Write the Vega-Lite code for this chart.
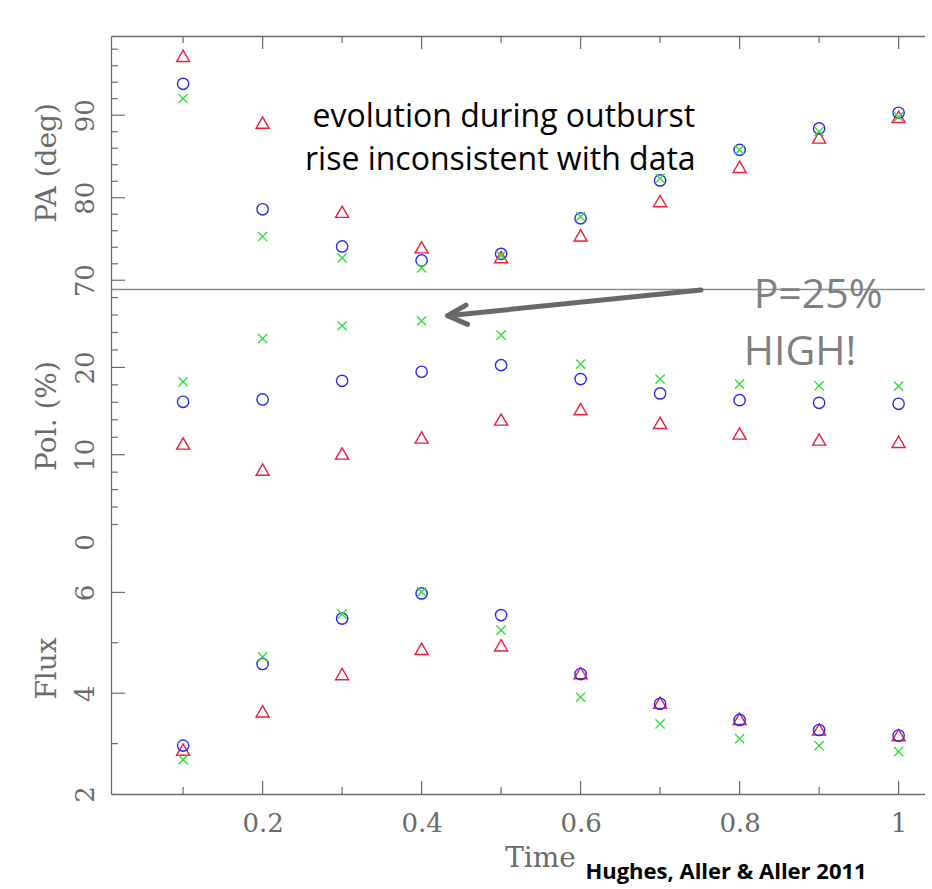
{
  "$schema": "https://vega.github.io/schema/vega-lite/v6.json",
  "background": "white",
  "padding": {"left": 32, "top": 33, "right": 0, "bottom": 4},
  "spacing": 0,
  "bounds": "flush",
  "config": {
    "view": {"stroke": null},
    "axis": {
      "grid": false,
      "labelOverlap": false,
      "ticks": false,
      "tickSize": 0,
      "domainColor": "#6a6a6a",
      "domainWidth": 1.3,
      "labelFont": "DejaVu Serif",
      "labelFontSize": 26,
      "labelColor": "#6a6a6a",
      "titleFont": "DejaVu Serif",
      "titleFontSize": 28,
      "titleFontWeight": "normal",
      "titleColor": "#6a6a6a"
    }
  },
  "datasets": {
    "pts": [
      {"panel": "PA", "t": 0.1, "series": "tri", "v": 97.2},
      {"panel": "PA", "t": 0.1, "series": "circ", "v": 93.8},
      {"panel": "PA", "t": 0.1, "series": "cross", "v": 92.0},
      {"panel": "PA", "t": 0.2, "series": "tri", "v": 89.1},
      {"panel": "PA", "t": 0.2, "series": "circ", "v": 78.6},
      {"panel": "PA", "t": 0.2, "series": "cross", "v": 75.3},
      {"panel": "PA", "t": 0.3, "series": "tri", "v": 78.3},
      {"panel": "PA", "t": 0.3, "series": "circ", "v": 74.1},
      {"panel": "PA", "t": 0.3, "series": "cross", "v": 72.7},
      {"panel": "PA", "t": 0.4, "series": "tri", "v": 74.0},
      {"panel": "PA", "t": 0.4, "series": "circ", "v": 72.4},
      {"panel": "PA", "t": 0.4, "series": "cross", "v": 71.5},
      {"panel": "PA", "t": 0.5, "series": "tri", "v": 72.8},
      {"panel": "PA", "t": 0.5, "series": "circ", "v": 73.2},
      {"panel": "PA", "t": 0.5, "series": "cross", "v": 73.0},
      {"panel": "PA", "t": 0.6, "series": "tri", "v": 75.45},
      {"panel": "PA", "t": 0.6, "series": "circ", "v": 77.5},
      {"panel": "PA", "t": 0.6, "series": "cross", "v": 77.7},
      {"panel": "PA", "t": 0.7, "series": "tri", "v": 79.6},
      {"panel": "PA", "t": 0.7, "series": "circ", "v": 82.1},
      {"panel": "PA", "t": 0.7, "series": "cross", "v": 82.35},
      {"panel": "PA", "t": 0.8, "series": "tri", "v": 83.75},
      {"panel": "PA", "t": 0.8, "series": "circ", "v": 85.8},
      {"panel": "PA", "t": 0.8, "series": "cross", "v": 85.8},
      {"panel": "PA", "t": 0.9, "series": "tri", "v": 87.3},
      {"panel": "PA", "t": 0.9, "series": "circ", "v": 88.4},
      {"panel": "PA", "t": 0.9, "series": "cross", "v": 88.0},
      {"panel": "PA", "t": 1.0, "series": "tri", "v": 89.8},
      {"panel": "PA", "t": 1.0, "series": "circ", "v": 90.3},
      {"panel": "PA", "t": 1.0, "series": "cross", "v": 89.8},
      {"panel": "Pol", "t": 0.1, "series": "tri", "v": 11.28},
      {"panel": "Pol", "t": 0.1, "series": "circ", "v": 16.06},
      {"panel": "Pol", "t": 0.1, "series": "cross", "v": 18.35},
      {"panel": "Pol", "t": 0.2, "series": "tri", "v": 8.3},
      {"panel": "Pol", "t": 0.2, "series": "circ", "v": 16.33},
      {"panel": "Pol", "t": 0.2, "series": "cross", "v": 23.3},
      {"panel": "Pol", "t": 0.3, "series": "tri", "v": 10.14},
      {"panel": "Pol", "t": 0.3, "series": "circ", "v": 18.46},
      {"panel": "Pol", "t": 0.3, "series": "cross", "v": 24.77},
      {"panel": "Pol", "t": 0.4, "series": "tri", "v": 11.97},
      {"panel": "Pol", "t": 0.4, "series": "circ", "v": 19.5},
      {"panel": "Pol", "t": 0.4, "series": "cross", "v": 25.34},
      {"panel": "Pol", "t": 0.5, "series": "tri", "v": 14.03},
      {"panel": "Pol", "t": 0.5, "series": "circ", "v": 20.26},
      {"panel": "Pol", "t": 0.5, "series": "cross", "v": 23.7},
      {"panel": "Pol", "t": 0.6, "series": "tri", "v": 15.22},
      {"panel": "Pol", "t": 0.6, "series": "circ", "v": 18.66},
      {"panel": "Pol", "t": 0.6, "series": "cross", "v": 20.38},
      {"panel": "Pol", "t": 0.7, "series": "tri", "v": 13.65},
      {"panel": "Pol", "t": 0.7, "series": "circ", "v": 17.02},
      {"panel": "Pol", "t": 0.7, "series": "cross", "v": 18.66},
      {"panel": "Pol", "t": 0.8, "series": "tri", "v": 12.43},
      {"panel": "Pol", "t": 0.8, "series": "circ", "v": 16.25},
      {"panel": "Pol", "t": 0.8, "series": "cross", "v": 18.08},
      {"panel": "Pol", "t": 0.9, "series": "tri", "v": 11.74},
      {"panel": "Pol", "t": 0.9, "series": "circ", "v": 15.94},
      {"panel": "Pol", "t": 0.9, "series": "cross", "v": 17.89},
      {"panel": "Pol", "t": 1.0, "series": "tri", "v": 11.47},
      {"panel": "Pol", "t": 1.0, "series": "circ", "v": 15.83},
      {"panel": "Pol", "t": 1.0, "series": "cross", "v": 17.86},
      {"panel": "Flux", "t": 0.1, "series": "tri", "v": 2.88},
      {"panel": "Flux", "t": 0.1, "series": "circ", "v": 2.96},
      {"panel": "Flux", "t": 0.1, "series": "cross", "v": 2.68},
      {"panel": "Flux", "t": 0.2, "series": "tri", "v": 3.64},
      {"panel": "Flux", "t": 0.2, "series": "circ", "v": 4.58},
      {"panel": "Flux", "t": 0.2, "series": "cross", "v": 4.72},
      {"panel": "Flux", "t": 0.3, "series": "tri", "v": 4.38},
      {"panel": "Flux", "t": 0.3, "series": "circ", "v": 5.48},
      {"panel": "Flux", "t": 0.3, "series": "cross", "v": 5.57},
      {"panel": "Flux", "t": 0.4, "series": "tri", "v": 4.88},
      {"panel": "Flux", "t": 0.4, "series": "circ", "v": 5.98},
      {"panel": "Flux", "t": 0.4, "series": "cross", "v": 6.01},
      {"panel": "Flux", "t": 0.5, "series": "tri", "v": 4.95},
      {"panel": "Flux", "t": 0.5, "series": "circ", "v": 5.55},
      {"panel": "Flux", "t": 0.5, "series": "cross", "v": 5.25},
      {"panel": "Flux", "t": 0.6, "series": "tri", "v": 4.40},
      {"panel": "Flux", "t": 0.6, "series": "circ", "v": 4.38},
      {"panel": "Flux", "t": 0.6, "series": "cross", "v": 3.92},
      {"panel": "Flux", "t": 0.7, "series": "tri", "v": 3.81},
      {"panel": "Flux", "t": 0.7, "series": "circ", "v": 3.79},
      {"panel": "Flux", "t": 0.7, "series": "cross", "v": 3.39},
      {"panel": "Flux", "t": 0.8, "series": "tri", "v": 3.49},
      {"panel": "Flux", "t": 0.8, "series": "circ", "v": 3.47},
      {"panel": "Flux", "t": 0.8, "series": "cross", "v": 3.10},
      {"panel": "Flux", "t": 0.9, "series": "tri", "v": 3.28},
      {"panel": "Flux", "t": 0.9, "series": "circ", "v": 3.27},
      {"panel": "Flux", "t": 0.9, "series": "cross", "v": 2.96},
      {"panel": "Flux", "t": 1.0, "series": "tri", "v": 3.17},
      {"panel": "Flux", "t": 1.0, "series": "circ", "v": 3.16},
      {"panel": "Flux", "t": 1.0, "series": "cross", "v": 2.84}
    ],
    "yticks": [
      {"panel": "PA", "v": 70, "kind": "major"},
      {"panel": "PA", "v": 72, "kind": "minor"},
      {"panel": "PA", "v": 74, "kind": "minor"},
      {"panel": "PA", "v": 76, "kind": "minor"},
      {"panel": "PA", "v": 78, "kind": "minor"},
      {"panel": "PA", "v": 80, "kind": "major"},
      {"panel": "PA", "v": 82, "kind": "minor"},
      {"panel": "PA", "v": 84, "kind": "minor"},
      {"panel": "PA", "v": 86, "kind": "minor"},
      {"panel": "PA", "v": 88, "kind": "minor"},
      {"panel": "PA", "v": 90, "kind": "major"},
      {"panel": "PA", "v": 92, "kind": "minor"},
      {"panel": "PA", "v": 94, "kind": "minor"},
      {"panel": "PA", "v": 96, "kind": "minor"},
      {"panel": "PA", "v": 98, "kind": "minor"},
      {"panel": "Pol", "v": 2, "kind": "minor"},
      {"panel": "Pol", "v": 4, "kind": "minor"},
      {"panel": "Pol", "v": 6, "kind": "minor"},
      {"panel": "Pol", "v": 8, "kind": "minor"},
      {"panel": "Pol", "v": 10, "kind": "major"},
      {"panel": "Pol", "v": 12, "kind": "minor"},
      {"panel": "Pol", "v": 14, "kind": "minor"},
      {"panel": "Pol", "v": 16, "kind": "minor"},
      {"panel": "Pol", "v": 18, "kind": "minor"},
      {"panel": "Pol", "v": 20, "kind": "major"},
      {"panel": "Pol", "v": 22, "kind": "minor"},
      {"panel": "Pol", "v": 24, "kind": "minor"},
      {"panel": "Pol", "v": 26, "kind": "minor"},
      {"panel": "Pol", "v": 28, "kind": "minor"},
      {"panel": "Flux", "v": 3, "kind": "minor"},
      {"panel": "Flux", "v": 4, "kind": "major"},
      {"panel": "Flux", "v": 5, "kind": "minor"},
      {"panel": "Flux", "v": 6, "kind": "major"}
    ],
    "xticks": [
      {"t": 0.1, "kind": "minor"},
      {"t": 0.2, "kind": "major"},
      {"t": 0.3, "kind": "minor"},
      {"t": 0.4, "kind": "major"},
      {"t": 0.5, "kind": "minor"},
      {"t": 0.6, "kind": "major"},
      {"t": 0.7, "kind": "minor"},
      {"t": 0.8, "kind": "major"},
      {"t": 0.9, "kind": "minor"},
      {"t": 1.0, "kind": "major"}
    ],
    "notes": [
      {"t": 0.5034, "v": 88.61, "label": "evolution during outburst"},
      {"t": 0.499, "v": 83.35, "label": "rise inconsistent with data"}
    ],
    "high": [
      {"t": 0.8987, "v": 26.8, "label": "P=25%"},
      {"t": 0.8761, "v": 20.26, "label": "HIGH!"}
    ],
    "arrow": [
      {"part": "shaft", "ord": 1, "t": 0.7514, "v": 28.86},
      {"part": "shaft", "ord": 2, "t": 0.4327, "v": 25.92},
      {"part": "head", "ord": 1, "t": 0.4558, "v": 27.14},
      {"part": "head", "ord": 2, "t": 0.4327, "v": 25.92},
      {"part": "head", "ord": 3, "t": 0.4579, "v": 24.93}
    ],
    "credit": [
      {"t": 0.606, "v": 0.32, "label": "Hughes, Aller & Aller 2011"}
    ]
  },
  "vconcat": [
    {
      "width": 814,
      "height": 253,
      "encoding": {
        "x": {"type": "quantitative", "scale": {"domain": [0.0093, 1.0332], "nice": false, "zero": false}},
        "y": {"type": "quantitative", "scale": {"domain": [68.94, 99.6], "nice": false, "zero": false}}
      },
      "layer": [
        {
          "data": {"name": "pts"},
          "transform": [{"filter": "datum.panel == 'PA'"}],
          "mark": {"type": "point", "filled": false, "strokeWidth": 1.4, "opacity": 1, "clip": false},
          "encoding": {
            "x": {
              "field": "t", "type": "quantitative",
              "axis": {"orient": "top", "title": null, "labels": false}
            },
            "y": {
              "field": "v", "type": "quantitative",
              "axis": {
                "title": "PA (deg)",
                "values": [70, 80, 90],
                "labelAngle": -90, "labelAlign": "center", "labelBaseline": "bottom",
                "labelPadding": 13, "titlePadding": 11
              }
            },
            "shape": {"field": "series", "type": "nominal", "scale": {"domain": ["tri", "circ", "cross"], "range": ["M-1,0.866L1,0.866L0,-0.866Z", "circle", "M-1,-1L1,1M-1,1L1,-1"]}, "legend": null},
            "color": {"field": "series", "type": "nominal", "scale": {"domain": ["tri", "circ", "cross"], "range": ["#ec1c3c", "#2a2aee", "#36dc36"]}, "legend": null},
            "size": {"field": "series", "type": "nominal", "scale": {"domain": ["tri", "circ", "cross"], "range": [170, 85, 100]}, "legend": null}
          }
        },
        {
          "data": {"name": "yticks"},
          "transform": [{"filter": "datum.panel == 'PA' && datum.kind == 'major'"}],
          "mark": {"type": "point", "shape": "M0,0L1,0", "size": 784, "filled": false, "color": "#6a6a6a", "strokeWidth": 1.2, "opacity": 1},
          "encoding": {"x": {"datum": 0.0093}, "y": {"field": "v"}}
        },
        {
          "data": {"name": "yticks"},
          "transform": [{"filter": "datum.panel == 'PA' && datum.kind == 'minor'"}],
          "mark": {"type": "point", "shape": "M0,0L1,0", "size": 196, "filled": false, "color": "#6a6a6a", "strokeWidth": 1.2, "opacity": 1},
          "encoding": {"x": {"datum": 0.0093}, "y": {"field": "v"}}
        },
        {
          "data": {"name": "xticks"},
          "transform": [{"filter": "datum.kind == 'major'"}],
          "mark": {"type": "point", "shape": "M0,0L0,1", "size": 676, "filled": false, "color": "#6a6a6a", "strokeWidth": 1.2, "opacity": 1},
          "encoding": {"x": {"field": "t"}, "y": {"datum": 99.6}}
        },
        {
          "data": {"name": "xticks"},
          "transform": [{"filter": "datum.kind == 'minor'"}],
          "mark": {"type": "point", "shape": "M0,0L0,1", "size": 196, "filled": false, "color": "#6a6a6a", "strokeWidth": 1.2, "opacity": 1},
          "encoding": {"x": {"field": "t"}, "y": {"datum": 99.6}}
        },
        {
          "data": {"name": "notes"},
          "mark": {"type": "text", "font": "Open Sans", "fontSize": 32, "align": "center", "baseline": "alphabetic", "color": "#000000"},
          "encoding": {
            "x": {"field": "t"},
            "y": {"field": "v"},
            "text": {"field": "label"}
          }
        }
      ]
    },
    {
      "width": 814,
      "height": 253,
      "encoding": {
        "x": {"type": "quantitative", "scale": {"domain": [0.0093, 1.0332], "nice": false, "zero": false}},
        "y": {"type": "quantitative", "scale": {"domain": [0, 28.98], "nice": false, "zero": false}}
      },
      "layer": [
        {
          "data": {"name": "pts"},
          "transform": [{"filter": "datum.panel == 'Pol'"}],
          "mark": {"type": "point", "filled": false, "strokeWidth": 1.4, "opacity": 1, "clip": false},
          "encoding": {
            "x": {
              "field": "t", "type": "quantitative",
              "axis": {"orient": "top", "title": null, "labels": false, "domainColor": "#8a8a8a", "domainWidth": 1.6}
            },
            "y": {
              "field": "v", "type": "quantitative",
              "axis": {
                "title": "Pol. (%)",
                "values": [0, 10, 20],
                "labelAngle": -90, "labelAlign": "center", "labelBaseline": "bottom",
                "labelPadding": 13, "titlePadding": 11
              }
            },
            "shape": {"field": "series", "type": "nominal", "scale": {"domain": ["tri", "circ", "cross"], "range": ["M-1,0.866L1,0.866L0,-0.866Z", "circle", "M-1,-1L1,1M-1,1L1,-1"]}, "legend": null},
            "color": {"field": "series", "type": "nominal", "scale": {"domain": ["tri", "circ", "cross"], "range": ["#ec1c3c", "#2a2aee", "#36dc36"]}, "legend": null},
            "size": {"field": "series", "type": "nominal", "scale": {"domain": ["tri", "circ", "cross"], "range": [170, 85, 100]}, "legend": null}
          }
        },
        {
          "data": {"name": "yticks"},
          "transform": [{"filter": "datum.panel == 'Pol' && datum.kind == 'major'"}],
          "mark": {"type": "point", "shape": "M0,0L1,0", "size": 784, "filled": false, "color": "#6a6a6a", "strokeWidth": 1.2, "opacity": 1},
          "encoding": {"x": {"datum": 0.0093}, "y": {"field": "v"}}
        },
        {
          "data": {"name": "yticks"},
          "transform": [{"filter": "datum.panel == 'Pol' && datum.kind == 'minor'"}],
          "mark": {"type": "point", "shape": "M0,0L1,0", "size": 196, "filled": false, "color": "#6a6a6a", "strokeWidth": 1.2, "opacity": 1},
          "encoding": {"x": {"datum": 0.0093}, "y": {"field": "v"}}
        },
        {
          "data": {"name": "arrow"},
          "mark": {"type": "line", "color": "#686868", "strokeWidth": 5, "strokeCap": "round", "strokeJoin": "round", "clip": false},
          "encoding": {
            "x": {"field": "t"},
            "y": {"field": "v"},
            "detail": {"field": "part"},
            "order": {"field": "ord"}
          }
        },
        {
          "data": {"name": "high"},
          "mark": {"type": "text", "font": "Open Sans", "fontSize": 41, "align": "center", "baseline": "alphabetic", "color": "#7f7f7f"},
          "encoding": {
            "x": {"field": "t"},
            "y": {"field": "v"},
            "text": {"field": "label"}
          }
        }
      ]
    },
    {
      "width": 814,
      "height": 252,
      "encoding": {
        "x": {"type": "quantitative", "scale": {"domain": [0.0093, 1.0332], "nice": false, "zero": false}},
        "y": {"type": "quantitative", "scale": {"domain": [2, 7], "nice": false, "zero": false}}
      },
      "layer": [
        {
          "data": {"name": "pts"},
          "transform": [{"filter": "datum.panel == 'Flux'"}],
          "mark": {"type": "point", "filled": false, "strokeWidth": 1.4, "opacity": 1, "clip": false},
          "encoding": {
            "x": {
              "field": "t", "type": "quantitative",
              "axis": {
                "orient": "bottom", "title": "Time", "titleX": 429, "titlePadding": 8,
                "values": [0.2, 0.4, 0.6, 0.8, 1.0],
                "format": "~g",
                "labelPadding": 16
              }
            },
            "y": {
              "field": "v", "type": "quantitative",
              "axis": {
                "title": "Flux",
                "values": [2, 4, 6],
                "labelAngle": -90, "labelAlign": "center", "labelBaseline": "bottom",
                "labelPadding": 13, "titlePadding": 11
              }
            },
            "shape": {"field": "series", "type": "nominal", "scale": {"domain": ["tri", "circ", "cross"], "range": ["M-1,0.866L1,0.866L0,-0.866Z", "circle", "M-1,-1L1,1M-1,1L1,-1"]}, "legend": null},
            "color": {"field": "series", "type": "nominal", "scale": {"domain": ["tri", "circ", "cross"], "range": ["#ec1c3c", "#2a2aee", "#36dc36"]}, "legend": null},
            "size": {"field": "series", "type": "nominal", "scale": {"domain": ["tri", "circ", "cross"], "range": [170, 85, 100]}, "legend": null}
          }
        },
        {
          "data": {"name": "yticks"},
          "transform": [{"filter": "datum.panel == 'Flux' && datum.kind == 'major'"}],
          "mark": {"type": "point", "shape": "M0,0L1,0", "size": 784, "filled": false, "color": "#6a6a6a", "strokeWidth": 1.2, "opacity": 1},
          "encoding": {"x": {"datum": 0.0093}, "y": {"field": "v"}}
        },
        {
          "data": {"name": "yticks"},
          "transform": [{"filter": "datum.panel == 'Flux' && datum.kind == 'minor'"}],
          "mark": {"type": "point", "shape": "M0,0L1,0", "size": 196, "filled": false, "color": "#6a6a6a", "strokeWidth": 1.2, "opacity": 1},
          "encoding": {"x": {"datum": 0.0093}, "y": {"field": "v"}}
        },
        {
          "data": {"name": "xticks"},
          "transform": [{"filter": "datum.kind == 'major'"}],
          "mark": {"type": "point", "shape": "M0,0L0,-1", "size": 676, "filled": false, "color": "#6a6a6a", "strokeWidth": 1.2, "opacity": 1},
          "encoding": {"x": {"field": "t"}, "y": {"datum": 2}}
        },
        {
          "data": {"name": "xticks"},
          "transform": [{"filter": "datum.kind == 'minor'"}],
          "mark": {"type": "point", "shape": "M0,0L0,-1", "size": 196, "filled": false, "color": "#6a6a6a", "strokeWidth": 1.2, "opacity": 1},
          "encoding": {"x": {"field": "t"}, "y": {"datum": 2}}
        },
        {
          "mark": {"type": "rule", "color": "#8a8a8a", "strokeWidth": 1.6},
          "encoding": {"y": {"datum": 7}}
        },
        {
          "data": {"name": "credit"},
          "mark": {"type": "text", "font": "Open Sans", "fontSize": 22, "fontWeight": "bold", "align": "left", "baseline": "alphabetic", "color": "#000000", "clip": false},
          "encoding": {
            "x": {"field": "t"},
            "y": {"field": "v"},
            "text": {"field": "label"}
          }
        }
      ]
    }
  ]
}
